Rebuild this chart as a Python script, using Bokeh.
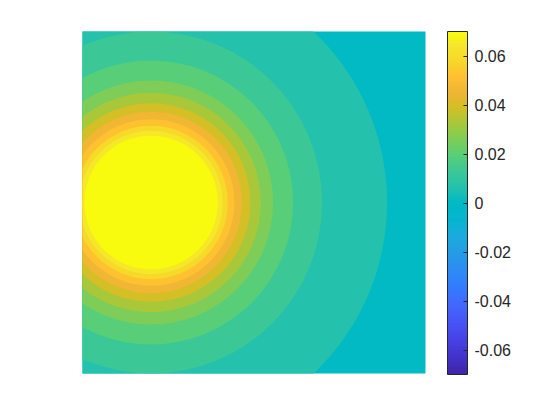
import numpy as np
from bokeh.plotting import figure
from bokeh.models import ColorBar, LinearColorMapper, FixedTicker, Range1d, ColumnDataSource
from bokeh.embed import file_html
from bokeh.resources import INLINE

# ---- data ----
center_x = 0.2
center_y = 0.5
# filled contour bands, outermost first (radius in axis units, value of band)
ring_radius = [1.0, 0.688, 0.4985, 0.414, 0.3557, 0.3198, 0.2895, 0.2644, 0.2429, 0.2236, 0.209, 0.1945]
ring_level = [0.0, 0.0065, 0.013, 0.0195, 0.026, 0.0325, 0.039, 0.0455, 0.052, 0.0585, 0.065, 0.0715]
clim_low, clim_high = -0.07, 0.07
tick_values = [-0.06, -0.04, -0.02, 0, 0.02, 0.04, 0.06]
tick_labels = ["-0.06", "-0.04", "-0.02", "0", "0.02", "0.04", "0.06"]

# ---- parula-like palette (styling) ----
keys = [
    (0.000, "#3E26A8"), (0.050, "#4332CA"), (0.100, "#4742E6"), (0.150, "#4754F6"),
    (0.200, "#4367FD"), (0.250, "#337AFD"), (0.300, "#2D8BF4"), (0.350, "#259BE7"),
    (0.400, "#1CAADF"), (0.450, "#08B4D1"), (0.500, "#00BAC4"), (0.546, "#25C1AD"),
    (0.593, "#3CC896"), (0.639, "#58CE78"), (0.686, "#7ECD58"), (0.732, "#A8C83A"),
    (0.779, "#D3BF26"), (0.825, "#F0B534"), (0.871, "#FFC032"), (0.918, "#F6D929"),
    (0.964, "#F5E82A"), (1.000, "#F9FB0E"),
]
kt = np.array([k[0] for k in keys])
kc = np.array([[int(h[i:i + 2], 16) for i in (1, 3, 5)] for _, h in keys], dtype=float)
tt = np.linspace(0, 1, 256)
palette = []
for t in tt:
    rgb = [np.interp(t, kt, kc[:, j]) for j in range(3)]
    palette.append("#%02x%02x%02x" % tuple(int(round(v)) for v in rgb))

mapper = LinearColorMapper(palette=palette, low=clim_low, high=clim_high)

n = len(ring_radius)
source = ColumnDataSource(dict(x=[center_x] * n, y=[center_y] * n, r=ring_radius, level=ring_level))

p = figure(frame_width=343, frame_height=342,
           x_range=Range1d(0, 1), y_range=Range1d(0, 1),
           x_axis_location=None, y_axis_location=None,
           toolbar_location=None, output_backend="svg",
           min_border_left=82, min_border_top=31, min_border_bottom=31, min_border_right=110)
p.outline_line_color = None
p.grid.visible = False

p.circle('x', 'y', radius='r', source=source,
         fill_color={'field': 'level', 'transform': mapper}, line_color=None)

cb = ColorBar(color_mapper=mapper,
              ticker=FixedTicker(ticks=tick_values),
              major_label_overrides={v: l for v, l in zip(tick_values, tick_labels)},
              width=20, height=343, margin=0, padding=0,
              location=(365, -1),
              bar_line_color="#262626", bar_line_width=1,
              major_tick_in=4, major_tick_out=0, major_tick_line_color="#262626",
              minor_tick_line_color=None,
              label_standoff=7,
              major_label_text_font="Liberation Sans",
              major_label_text_font_size="16px",
              major_label_text_color="#262626",
              border_line_color=None, background_fill_color=None)
p.add_layout(cb, 'center')

open("out.html", "w").write(file_html(p, INLINE))
